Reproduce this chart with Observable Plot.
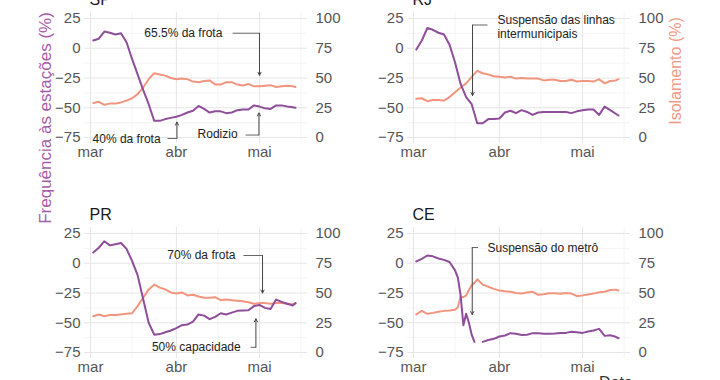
<!DOCTYPE html>
<html><head><meta charset="utf-8">
<script src="https://cdn.jsdelivr.net/npm/d3@7"></script>
<script src="https://cdn.jsdelivr.net/npm/@observablehq/plot@0.6"></script>
<style>
html,body{margin:0;padding:0;background:#fff;}
#chart{position:relative;width:720px;height:380px;overflow:hidden;font-family:"Liberation Sans",Arial,sans-serif;background:#fff;}
#chart svg{position:absolute;overflow:visible;}
.ttl{position:absolute;white-space:nowrap;}
</style></head><body><div id="chart"></div>
<script>
// ---- data: days since 1 March 2020 ----
const days = [1,3,5,7,9,11,13,15,17,19,21,23,25,27,29,31,33,35,37,39,41,43,45,47,49,51,53,55,57,59,61,63,65,67,69,71,73,74];
const ceDays = [1,3,5,7,9,11,13,15,16,17,18,19,20,21,22,23,25,27,29,31,33,35,37,39,41,43,45,47,49,51,53,55,57,59,61,63,65,67,69,71,73,74];

const spFreq = [6.5,8,14,13,11.5,12.5,5,-9,-22,-35,-47,-61,-61,-59.5,-58.5,-57.5,-56,-54,-52.5,-48.5,-51,-54,-53,-53,-54.5,-54,-52,-51.5,-51.5,-48,-49,-50.5,-51,-48,-48,-49,-49.5,-50];
const spIso  = [29,30,27.5,28.5,28.5,29.5,31,33,36.5,42,49,54,53,52,50,49,49.5,49,47,46.5,47.5,48,44.5,44.5,46.5,46.5,44.5,43.7,45,43,43,43.5,44,42.5,43,43.5,43,42.5];

const rjFreq = [-1,6.5,17,15.5,13,11.5,3,-12,-30,-41,-47,-63,-63,-59.5,-59.5,-59,-54,-52.5,-54.5,-52,-53.5,-56,-54,-53.5,-53.5,-53.5,-53.5,-53.5,-54.5,-53,-52,-51.5,-51.5,-56,-49,-52,-55,-56.5];
const rjIso  = [32.5,33,30.5,31.5,31.5,31,34,38,42,45.5,51,56,54,53,51.5,51,50.5,51,49.5,50,49.5,49.5,49.5,48,48.5,48.5,47.5,47.5,48.5,47,47.5,47.5,47,49,45.5,47.5,48,49];

const prFreq = [9,13,18.5,15,16,17,12,2,-10,-30,-50,-60,-59.5,-58,-56.5,-54.5,-52,-51.5,-49,-43,-44,-47,-45,-42,-43,-41.5,-40,-39.7,-39.5,-36,-35,-37.5,-38.5,-30.5,-32.5,-34,-35.5,-33.5];
const prIso  = [30.5,32,30.5,31.5,31.5,32,32.5,33,39,46,53,57,54.5,53,50.5,49.5,50.5,48,48.5,47,46,46,46.5,44,44.5,44,43.5,43,42.3,41,41.5,41.5,41,41.5,41.5,41,40.5,41.5];

const ceFreq = [1.5,3.7,6.5,5.8,4,2.8,1,-6,-12,-27,-52,-42.5,-50,-60,-66,null,-66,-64.5,-63.5,-61.5,-60.7,-58.7,-59.3,-60.3,-60,-58.7,-58.7,-59.3,-59.3,-59,-58.5,-58.5,-57.5,-58,-58.5,-57.4,-56.5,-55.1,-61,-60.5,-61.8,-63];
const ceIso  = [32,35,32.5,33.3,34.3,35,35.3,36,38,47,46.5,48,52.5,56.5,58.5,61.5,57,55.3,53.5,52,51.5,51,50,49.5,50.5,51,48.5,49,49.7,49.7,49.3,50,49.5,47.5,48,48.8,49.5,50.7,51,52.5,52.8,52.1];

const states = ["SP","RJ","PR","CE"];
const monthTicks = ["2020-03-01","2020-04-01","2020-05-01"];
const monthLabels = ["mar","abr","mai"];
const minorMonthTicks = ["2020-03-16","2020-04-16","2020-05-16"];
const freqTicks = [-75,-50,-25,0,25];
const freqMinor = [-62.5,-37.5,-12.5,12.5];
const isoTicks = [0,25,50,75,100];

// annotations (data coordinates: day since 1 Mar, frequency %)
const spNotes = [
  {label:"65.5% da frota", x:47.6, y:12.8, anchor:"end", from:51.3, at:61, lineY:12.6, tip:-22.7},
  {label:"40% da frota", x:25.3, y:-75.8, anchor:"end", from:27.8, at:31.2, lineY:-75.8, tip:-62},
  {label:"Rodizio", x:53.1, y:-71.6, anchor:"end", from:56, at:60.8, lineY:-72.9, tip:-54.4}
];
const rjNotes = [
  {label:"Suspensão das linhas\nintermunicipais", x:30.3, y:18.3, anchor:"start", from:26.7, at:21.3, lineY:19.5, tip:-39.7}
];
const prNotes = [
  {label:"70% da frota", x:52.3, y:7.1, anchor:"end", from:55.2, at:62.1, lineY:6.5, tip:-25},
  {label:"50% capacidade", x:54.2, y:-70.2, anchor:"end", from:57.8, at:59.7, lineY:-70.6, tip:-46.7}
];
const ceNotes = [
  {label:"Suspensão do metrô", x:26.7, y:12.8, anchor:"start", from:23.3, at:21.2, lineY:13.2, tip:-43.1}
];

// ---- drawing ----
const PURPLE = "#8e4e99", SALMON = "#f2957f";
const t0 = Date.UTC(2020, 2, 1);
const toDate = d => new Date(t0 + d * 864e5);
const W = 350, H = 170;
const margins = {marginTop: 12, marginRight: 43, marginBottom: 27, marginLeft: 84};
const xDomain = [toDate(-2.17), toDate(78.33)];
const style = {fontSize: "15px", fontFamily: "'Liberation Sans', Arial, sans-serif", color: "#555", background: "transparent", overflow: "visible"};
const chart = document.getElementById("chart");

function panel(title, dd, freq, iso, notes, left, top) {
  const rows = dd.map((d, i) => ({date: toDate(d), freq: freq[i], iso: iso[i]}));
  const xOpt = {type: "utc", domain: xDomain};
  const base = Plot.plot({
    width: W, height: H, ...margins, style,
    x: {...xOpt, axis: null},
    y: {domain: [-5, 105], axis: null},
    marks: [
      Plot.gridX({ticks: minorMonthTicks.map(s => new Date(s)), stroke: "#f1f1f1", strokeOpacity: 1, strokeWidth: 0.8}),
      Plot.gridY({ticks: freqMinor.map(v => v + 75), stroke: "#f1f1f1", strokeOpacity: 1, strokeWidth: 0.8}),
      Plot.gridX({ticks: monthTicks.map(s => new Date(s)), stroke: "#e6e6e6", strokeOpacity: 1, strokeWidth: 1}),
      Plot.gridY({ticks: isoTicks, stroke: "#e6e6e6", strokeOpacity: 1, strokeWidth: 1}),
      Plot.axisY({anchor: "right", ticks: isoTicks, tickSize: 0, tickPadding: 8, label: null}),
      Plot.line(rows, {x: "date", y: "iso", stroke: SALMON, strokeWidth: 2})
    ]
  });
  const front = Plot.plot({
    width: W, height: H, ...margins, style,
    x: xOpt,
    y: {domain: [-80, 30]},
    marks: [
      Plot.axisY({anchor: "left", ticks: freqTicks, tickSize: 0, tickPadding: 4, label: null}),
      Plot.axisX({ticks: monthTicks.map(s => new Date(s)), tickFormat: (d, i) => monthLabels[i], tickSize: 0, tickPadding: 3, label: null}),
      Plot.line(rows, {x: "date", y: "freq", stroke: PURPLE, strokeWidth: 2}),
      Plot.link(notes, {x1: n => toDate(n.from), y1: "lineY", x2: n => toDate(n.at), y2: "lineY", stroke: "#666", strokeWidth: 1}),
      Plot.arrow(notes, {x1: n => toDate(n.at), y1: "lineY", x2: n => toDate(n.at), y2: "tip", stroke: "#444", strokeWidth: 1, headLength: 5, headAngle: 55, insetStart: 0, insetEnd: 0}),
      Plot.text(notes.filter(n => n.anchor === "end"), {x: n => toDate(n.x), y: "y", text: "label", textAnchor: "end", fontSize: 12, fill: "#222", lineHeight: 1.17}),
      Plot.text(notes.filter(n => n.anchor === "start"), {x: n => toDate(n.x), y: "y", text: "label", textAnchor: "start", fontSize: 12, fill: "#222", lineHeight: 1.17}),
      Plot.text([title], {frameAnchor: "top-left", text: d => d, dx: 5, dy: -7.5, lineAnchor: "bottom", textAnchor: "start", fontSize: 16, fill: "#1a1a1a"})
    ]
  });
  for (const svg of [base, front]) {
    svg.style.left = left + "px";
    svg.style.top = top + "px";
    chart.appendChild(svg);
  }
}

panel(states[0], days, spFreq, spIso, spNotes, 0, 0);
panel(states[1], days, rjFreq, rjIso, rjNotes, 323, 0);
panel(states[2], days, prFreq, prIso, prNotes, 0, 215);
panel(states[3], ceDays, ceFreq, ceIso, ceNotes, 323, 215);

function addTitle(text, cx, cy, size, color, rotate) {
  const el = document.createElement("div");
  el.className = "ttl";
  el.textContent = text;
  el.style.fontSize = size + "px";
  el.style.lineHeight = size + "px";
  el.style.color = color;
  el.style.left = cx + "px";
  el.style.top = cy + "px";
  el.style.transform = "translate(-50%,-50%)" + (rotate ? " rotate(-90deg)" : "");
  chart.appendChild(el);
}
addTitle("Frequência às estações (%)", 45, 117.5, 17, "#a55ca6", true);
addTitle("Isolamento (%)", 676, 70.5, 16, "#f09a86", true);
addTitle("Data", 616, 383, 16, "#333", false);
</script>
</body></html>
